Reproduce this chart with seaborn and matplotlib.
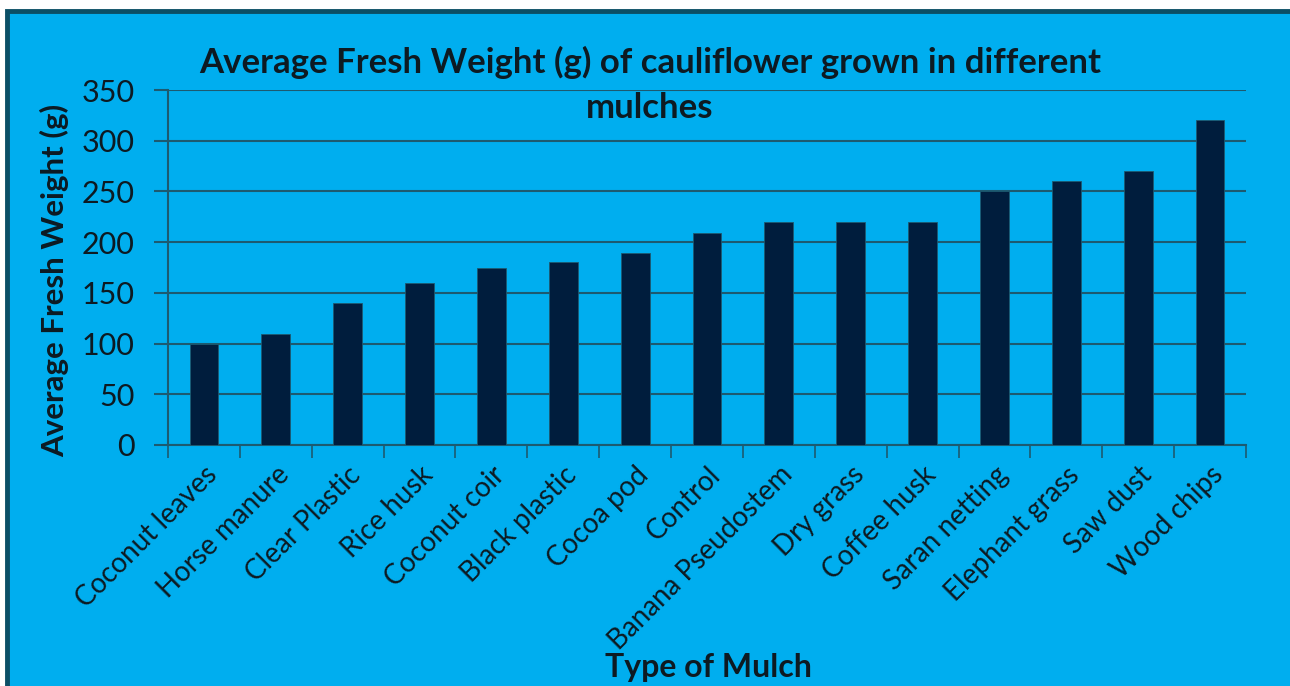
import matplotlib
matplotlib.use("Agg")
import matplotlib.pyplot as plt
import seaborn as sns
import pandas as pd
import numpy as np
from matplotlib.patches import Rectangle

mulches = ["Coconut leaves", "Horse manure", "Clear Plastic", "Rice husk",
           "Coconut coir", "Black plastic", "Cocoa pod", "Control",
           "Banana Pseudostem", "Dry grass", "Coffee husk", "Saran netting",
           "Elephant grass", "Saw dust", "Wood chips"]
fresh_weight = [100, 109, 140, 160, 175, 180, 189, 209, 220, 220, 220,
                250, 260, 270, 320]
y_ticks = [0, 50, 100, 150, 200, 250, 300, 350]

BG = "#00AEEF"
BAR = "#001D3D"
LINE = "#1D5A70"
TEXT = "#0D1A22"

sns.set_theme(style="white")
plt.rcParams["font.family"] = ["Lato", "DejaVu Sans"]

W, H = 1290, 686
fig = plt.figure(figsize=(W / 100, H / 100), dpi=100, facecolor="white")

# Blue chart panel with a dark frame
panel = Rectangle((7 / W, 0 - 0.01), 1.05, (H - 11) / H + 0.01,
                  transform=fig.transFigure, facecolor=BG,
                  edgecolor="#0B4F66", linewidth=3.5, zorder=-10)
fig.patches.append(panel)

ax = fig.add_axes([168 / W, 1 - 445 / H, (1246 - 168) / W, (445 - 90) / H])
ax.set_facecolor(BG)

df = pd.DataFrame({"Mulch": mulches, "Weight": fresh_weight})
sns.barplot(data=df, x="Mulch", y="Weight", color=BAR, width=0.4,
            saturation=1, ax=ax, zorder=3, edgecolor=LINE, linewidth=0.6)

ax.set_ylim(0, 350)
ax.set_xlim(-0.5, len(mulches) - 0.5)
ax.set_yticks(y_ticks)
ax.set_yticklabels([str(v) for v in y_ticks], fontsize=22, color=TEXT)
ax.yaxis.grid(True, color=LINE, linewidth=1.5, zorder=0)
ax.set_axisbelow(True)

# Category labels, with tick marks on the boundaries between categories
ax.set_xticks(np.arange(len(mulches)))
ax.set_xticklabels(mulches, rotation=45, ha="right", rotation_mode="anchor",
                   fontsize=20, color=TEXT)
ax.tick_params(axis="x", which="major", length=0, pad=12)
ax.set_xticks(np.arange(-0.5, len(mulches)), minor=True)
ax.tick_params(axis="x", which="minor", length=9, width=1.2, color=LINE,
               direction="out", bottom=True)
ax.tick_params(axis="y", which="major", length=10, width=1.5, color=LINE,
               direction="out", left=True, pad=14)

for s in ["top", "right"]:
    ax.spines[s].set_visible(False)
for s in ["left", "bottom"]:
    ax.spines[s].set_color(LINE)
    ax.spines[s].set_linewidth(1.5)

ax.set_xlabel("")
ax.set_ylabel("")

fig.text(55 / W, 1 - 280 / H, "Average Fresh Weight (g)", rotation=90,
         ha="center", va="center", fontsize=22.5, fontweight="bold", color=TEXT)
fig.text(708 / W, 1 - 667 / H, "Type of Mulch", ha="center", va="center",
         fontsize=23, fontweight="bold", color=TEXT)
fig.text(650 / W, 1 - 62 / H, "Average Fresh Weight (g) of cauliflower grown in different",
         ha="center", va="center", fontsize=25, fontweight="bold", color=TEXT)
fig.text(650 / W, 1 - 108 / H, "mulches", ha="center", va="center",
         fontsize=25, fontweight="bold", color=TEXT)

fig.savefig("out.png", dpi=100, facecolor="white")
